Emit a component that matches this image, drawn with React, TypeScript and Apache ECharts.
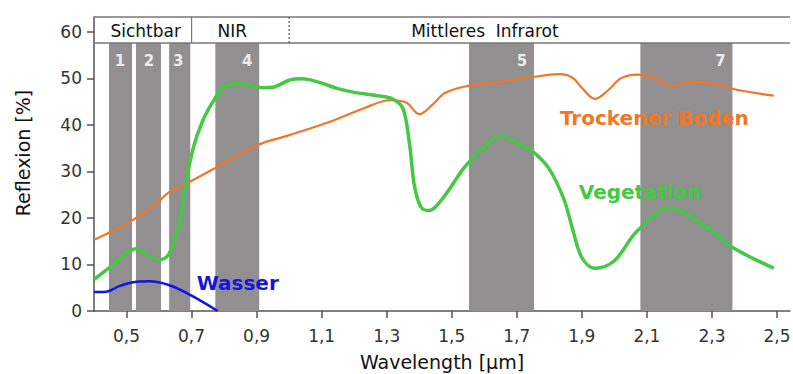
import React, { useEffect, useRef } from "react";
import * as echarts from "echarts";

// Wavelength [µm] / Reflexion [%]
const vegX = [0.40, 0.45, 0.50, 0.53, 0.56, 0.60, 0.63, 0.66, 0.68, 0.705, 0.735, 0.77, 0.80, 0.84, 0.88, 0.92, 0.95, 1.00, 1.04, 1.09, 1.15, 1.20, 1.28, 1.32, 1.35, 1.37, 1.385, 1.405, 1.43, 1.475, 1.54, 1.60, 1.65, 1.70, 1.75, 1.80, 1.845, 1.87, 1.90, 1.94, 2.00, 2.07, 2.17, 2.28, 2.36, 2.49];
const vegY = [6.8, 9.5, 12.5, 13.4, 12.2, 11.0, 12.2, 18, 26.5, 35, 41, 45.5, 48.2, 48.9, 48.5, 48.0, 48.1, 49.6, 49.9, 49.2, 47.8, 47.0, 46.2, 45.5, 43.5, 36, 27, 22.4, 21.6, 24.5, 31, 35.3, 37.6, 36.2, 34.2, 30.5, 24, 18, 11.5, 9.2, 10.8, 17.2, 22.1, 18.2, 13.8, 9.2];

const soilX = [0.40, 0.46, 0.52, 0.59, 0.63, 0.69, 0.78, 0.90, 1.00, 1.13, 1.23, 1.31, 1.36, 1.40, 1.44, 1.48, 1.55, 1.64, 1.74, 1.83, 1.87, 1.90, 1.94, 1.98, 2.02, 2.07, 2.13, 2.18, 2.23, 2.30, 2.38, 2.49];
const soilY = [15.3, 17.3, 19.6, 23, 25.5, 27.6, 31, 35.6, 37.8, 40.8, 43.6, 45.3, 44.8, 42.3, 44.3, 46.9, 48.4, 49.2, 50.2, 50.9, 50.2, 48.0, 45.6, 47.4, 50.0, 50.8, 49.8, 48.3, 49.3, 49.0, 47.5, 46.3];

const waterX = [0.40, 0.43, 0.48, 0.52, 0.57, 0.63, 0.70, 0.78];
const waterY = [4.1, 4.1, 5.4, 6.2, 6.4, 5.6, 3.3, 0];

// Landsat bands
const bandStart = [0.446, 0.529, 0.631, 0.773, 1.553, 2.08];
const bandEnd = [0.517, 0.606, 0.696, 0.908, 1.753, 2.363];
const bandLabels = ["1", "2", "3", "4", "5", "7"];

// header regions
const headerDividers = [0.7, 1.0];
const headerNames = ["Sichtbar", "NIR", "Mittleres  Infrarot"];
const headerNameX = [0.559, 0.825, 1.602];

// curve labels
const curveLabelNames = ["Trockener Boden", "Vegetation", "Wasser"];
const curveLabelX = [2.123, 2.08, 0.842];
const curveLabelY = [41.5, 25.6, 6.0];

const xTicks = [0.5, 0.7, 0.9, 1.1, 1.3, 1.5, 1.7, 1.9, 2.1, 2.3, 2.5];
const yTicks = [0, 10, 20, 30, 40, 50, 60];

const X_MIN = 0.4;
const X_MAX = 2.54;
const Y_MAX = 63.2;
const HEADER_BOTTOM = 57.6;

const ORANGE = "#f07628";
const GREEN = "#45c845";
const BLUE = "#1414e0";
const FONT = "DejaVu Sans";

export default function App() {
  const ref = useRef<HTMLDivElement>(null);
  useEffect(() => {
    if (!ref.current) return;
    const chart = echarts.init(ref.current, null, { renderer: "svg" });
    const zip = (xs: number[], ys: number[]) => xs.map((x, i) => [x, ys[i]]);
    const curveColors = [ORANGE, GREEN, BLUE];
    chart.setOption({
      animation: false,
      grid: { left: 94, right: 3, top: 17, bottom: 63, containLabel: false, outerBoundsMode: "none" },
      xAxis: {
        type: "value",
        min: X_MIN,
        max: X_MAX,
        name: "Wavelength [µm]",
        nameLocation: "middle",
        nameGap: 41,
        nameTextStyle: { fontFamily: FONT, fontSize: 19, color: "#111" },
        splitLine: { show: false },
        axisLine: { lineStyle: { color: "#555", width: 1.5 } },
        axisTick: { customValues: xTicks, length: 7, lineStyle: { color: "#555", width: 1.5 } },
        axisLabel: {
          customValues: xTicks,
          fontFamily: FONT,
          fontSize: 17,
          color: "#333",
          margin: 16,
          formatter: (v: number) => v.toFixed(1).replace(".", ","),
        },
      },
      yAxis: {
        type: "value",
        min: 0,
        max: Y_MAX,
        name: "Reflexion [%]",
        nameLocation: "middle",
        nameGap: 62,
        nameTextStyle: { fontFamily: FONT, fontSize: 19, color: "#111", padding: [0, 0, 0, 22] },
        splitLine: { show: false },
        axisLine: { show: true, lineStyle: { color: "#555", width: 1.5 } },
        axisTick: { show: true, customValues: yTicks, length: 7, lineStyle: { color: "#555", width: 1.5 } },
        axisLabel: {
          customValues: yTicks,
          fontFamily: FONT,
          fontSize: 17,
          color: "#333",
          margin: 12,
        },
      },
      series: [
        {
          type: "custom",
          name: "bands",
          z: 1,
          silent: true,
          data: bandStart.map((s, i) => [s, bandEnd[i]]),
          renderItem: (params: any, api: any) => {
            const p0 = api.coord([api.value(0), 0]);
            const p1 = api.coord([api.value(1), HEADER_BOTTOM]);
            return {
              type: "group",
              children: [
                {
                  type: "rect",
                  shape: { x: p0[0], y: p1[1], width: p1[0] - p0[0], height: p0[1] - p1[1] },
                  style: { fill: "#918f8f" },
                },
                {
                  type: "text",
                  x: p1[0] - 12,
                  y: p1[1] + 18,
                  style: {
                    text: bandLabels[params.dataIndex],
                    fill: "#ececec",
                    font: `bold 15px "${FONT}"`,
                    align: "center",
                    verticalAlign: "middle",
                  },
                },
              ],
            };
          },
        },
        {
          type: "custom",
          name: "header",
          z: 2,
          silent: true,
          data: [[X_MIN, X_MAX]],
          renderItem: (params: any, api: any) => {
            const tl = api.coord([X_MIN, Y_MAX]);
            const br = api.coord([X_MAX, HEADER_BOTTOM]);
            const children: any[] = [
              { type: "line", shape: { x1: tl[0], y1: tl[1], x2: br[0], y2: tl[1] }, style: { stroke: "#777", lineWidth: 1.5 } },
              { type: "line", shape: { x1: tl[0], y1: br[1], x2: br[0], y2: br[1] }, style: { stroke: "#777", lineWidth: 1.5 } },
            ];
            headerDividers.forEach((d, i) => {
              const px = api.coord([d, 0])[0];
              children.push({
                type: "line",
                shape: { x1: px, y1: tl[1], x2: px, y2: br[1] },
                style: { stroke: i === 0 ? "#777" : "#555", lineWidth: 1.2, lineDash: i === 0 ? null : [2, 2] },
              });
            });
            headerNames.forEach((n, i) => {
              const p = api.coord([headerNameX[i], (Y_MAX + HEADER_BOTTOM) / 2]);
              children.push({
                type: "text",
                x: p[0],
                y: p[1] + 1,
                style: { text: n, fill: "#111", font: `17px "${FONT}"`, align: "center", verticalAlign: "middle" },
              });
            });
            return { type: "group", children };
          },
        },
        {
          type: "line",
          name: "Trockener Boden",
          z: 3,
          data: zip(soilX, soilY),
          smooth: 0.35,
          symbol: "none",
          lineStyle: { color: ORANGE, width: 2.2 },
        },
        {
          type: "line",
          name: "Vegetation",
          z: 4,
          data: zip(vegX, vegY),
          smooth: 0.35,
          symbol: "none",
          lineStyle: { color: GREEN, width: 3.5 },
        },
        {
          type: "line",
          name: "Wasser",
          z: 4,
          data: zip(waterX, waterY),
          smooth: 0.4,
          symbol: "none",
          lineStyle: { color: BLUE, width: 2.5 },
        },
        {
          type: "custom",
          name: "labels",
          z: 5,
          silent: true,
          data: curveLabelX.map((x, i) => [x, curveLabelY[i]]),
          renderItem: (params: any, api: any) => {
            const p = api.coord([api.value(0), api.value(1)]);
            return {
              type: "text",
              x: p[0],
              y: p[1],
              style: {
                text: curveLabelNames[params.dataIndex],
                fill: curveColors[params.dataIndex],
                font: `bold 20px "${FONT}"`,
                align: "center",
                verticalAlign: "middle",
              },
            };
          },
        },
      ],
    });
    return () => chart.dispose();
  }, []);
  return <div ref={ref} style={{ width: 793, height: 374, position: "absolute", left: 0, top: 0 }} />;
}
